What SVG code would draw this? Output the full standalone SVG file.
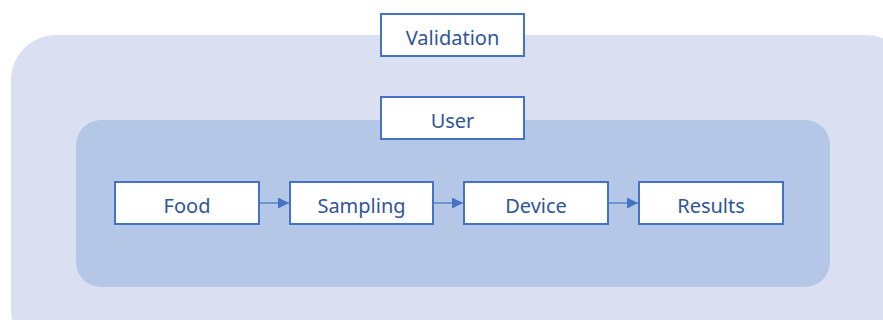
<svg xmlns="http://www.w3.org/2000/svg" width="883" height="320" viewBox="0 0 883 320">
  <style>
    .box { fill: #ffffff; stroke: #4472C4; stroke-width: 2; }
    .lbl { font-family: "Noto Sans", "Liberation Sans", sans-serif; font-size: 20px; fill: #2F5597; text-anchor: middle; dominant-baseline: central; }
    .conn { stroke: #4472C4; stroke-width: 1.2; fill: none; marker-end: url(#arrow); }
  </style>
  <defs>
    <marker id="arrow" viewBox="0 0 10 10" refX="10" refY="5" markerWidth="11" markerHeight="11" markerUnits="userSpaceOnUse" orient="auto">
      <path d="M0,0 L10,5 L0,10 Z" fill="#4472C4"/>
    </marker>
  </defs>

  <!-- containers -->
  <rect id="validation-area" x="11" y="35" width="900" height="320" rx="45" ry="45" fill="#DAE0F2"/>
  <rect id="user-area" x="76" y="120" width="754" height="167" rx="25" ry="25" fill="#B4C7E7"/>

  <g id="validation">
    <rect class="box" x="381" y="14" width="143" height="42"/>
    <text class="lbl" x="452.5" y="37">Validation</text>
  </g>
  <g id="user">
    <rect class="box" x="381" y="97" width="143" height="42"/>
    <text class="lbl" x="452.5" y="120">User</text>
  </g>
  <g id="food">
    <rect class="box" x="115" y="182" width="144" height="42"/>
    <text class="lbl" x="187" y="205">Food</text>
  </g>
  <g id="sampling">
    <rect class="box" x="290" y="182" width="143" height="42"/>
    <text class="lbl" x="361.5" y="205">Sampling</text>
  </g>
  <g id="device">
    <rect class="box" x="464" y="182" width="144" height="42"/>
    <text class="lbl" x="536" y="205">Device</text>
  </g>
  <g id="results">
    <rect class="box" x="639" y="182" width="144" height="42"/>
    <text class="lbl" x="711" y="205">Results</text>
  </g>

  <g id="connectors">
    <line class="conn" x1="259" y1="203" x2="289" y2="203"/>
    <line class="conn" x1="433" y1="203" x2="463" y2="203"/>
    <line class="conn" x1="608" y1="203" x2="638" y2="203"/>
  </g>
</svg>
